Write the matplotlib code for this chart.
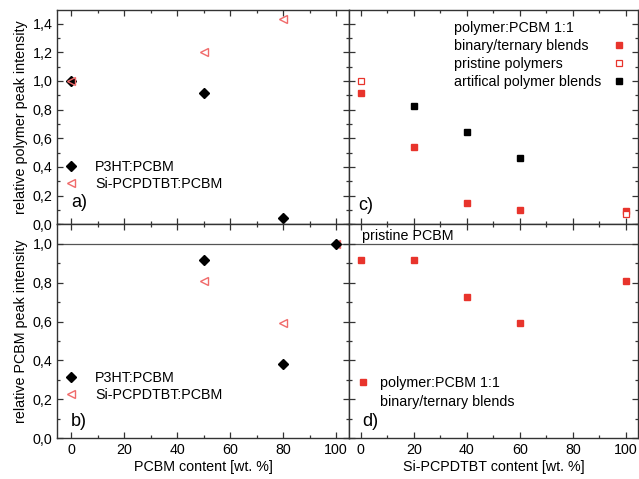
import matplotlib
matplotlib.use("Agg")
import matplotlib.pyplot as plt
from matplotlib.ticker import MultipleLocator, FuncFormatter
from matplotlib.lines import Line2D

plt.rcParams['font.family'] = ['Liberation Sans', 'DejaVu Sans']
plt.rcParams['font.size'] = 10.3

RED = '#e8342c'
PINK = '#f06a6a'
FRAME = '#333333'

# panel a: relative polymer peak intensity vs PCBM content
a_p3ht_x = [0, 50, 80]
a_p3ht_y = [1.0, 0.915, 0.042]
a_si_x = [0, 50, 80]
a_si_y = [1.0, 1.2, 1.435]

# panel b: relative PCBM peak intensity vs PCBM content
b_p3ht_x = [50, 80, 100]
b_p3ht_y = [0.914, 0.383, 1.0]
b_si_x = [50, 80, 100]
b_si_y = [0.806, 0.595, 1.0]

# panel c: relative polymer peak intensity vs Si-PCPDTBT content
c_blend_x = [0, 20, 40, 60, 100]
c_blend_y = [0.914, 0.542, 0.147, 0.102, 0.092]
c_pristine_x = [0, 100]
c_pristine_y = [1.0, 0.074]
c_art_x = [20, 40, 60]
c_art_y = [0.828, 0.644, 0.46]

# panel d: relative PCBM peak intensity vs Si-PCPDTBT content
d_blend_x = [0, 20, 40, 60, 100]
d_blend_y = [0.914, 0.914, 0.724, 0.595, 0.81]

W, H = 639, 479
fig = plt.figure(figsize=(W / 100, H / 100), dpi=100)


def px_axes(x0, y0, x1, y1):
    return fig.add_axes([x0 / W, 1 - y1 / H, (x1 - x0) / W, (y1 - y0) / H])


comma = FuncFormatter(lambda v, p: f'{v:.1f}'.replace('.', ','))


def style(ax, ylim, xlim):
    ax.set_xlim(*xlim)
    ax.set_ylim(*ylim)
    ax.xaxis.set_major_locator(MultipleLocator(20))
    ax.xaxis.set_minor_locator(MultipleLocator(10))
    ax.yaxis.set_major_locator(MultipleLocator(0.2))
    ax.yaxis.set_minor_locator(MultipleLocator(0.1))
    ax.tick_params(which='both', direction='in', top=True, right=True,
                   color=FRAME, width=0.9)
    ax.tick_params(which='major', length=4)
    ax.tick_params(which='minor', length=2.5)
    for s in ax.spines.values():
        s.set_color(FRAME)
        s.set_linewidth(1.0)


xl_left = (-5.2, 105)
xl_right = (-4.3, 104.5)

ax_a = px_axes(57.3, 10, 349.3, 224.3)
ax_b = px_axes(57.3, 224.3, 349.3, 438.3)
ax_c = px_axes(349.3, 10, 637.7, 224.3)
ax_d = px_axes(349.3, 224.3, 637.7, 438.3)

for ax, yl, xl in [(ax_a, (0, 1.495), xl_left), (ax_b, (0, 1.1), xl_left),
                   (ax_c, (0, 1.495), xl_right), (ax_d, (0, 1.1), xl_right)]:
    style(ax, yl, xl)

leg_kw = dict(frameon=False, borderpad=0, borderaxespad=0, handlelength=1.0)

# panel a
ax_a.plot(a_si_x, a_si_y, ls='none', marker='<', ms=6, mfc='none', mec=PINK,
          mew=1.0, label='Si-PCPDTBT:PCBM', zorder=3)
ax_a.plot(a_p3ht_x, a_p3ht_y, ls='none', marker='D', ms=5.2, color='black',
          label='P3HT:PCBM', zorder=2)
h, l = ax_a.get_legend_handles_labels()
ax_a.legend(h[::-1], l[::-1], loc='lower left', bbox_to_anchor=(0.022, 0.157),
            handletextpad=1.18, labelspacing=0.18, **leg_kw)
ax_a.yaxis.set_major_formatter(comma)
ax_a.set_xticklabels([])
ax_a.set_ylabel('relative polymer peak intensity', labelpad=3)
ax_a.text(0.047, 0.06, 'a)', transform=ax_a.transAxes, fontsize=13,
          va='bottom', ha='left')

# panel b
ax_b.axhline(1.0, color='#555555', lw=0.9, zorder=1)
ax_b.plot(b_si_x, b_si_y, ls='none', marker='<', ms=6, mfc='none', mec=PINK,
          mew=1.0, label='Si-PCPDTBT:PCBM', zorder=2)
ax_b.plot(b_p3ht_x, b_p3ht_y, ls='none', marker='D', ms=5.2, color='black',
          label='P3HT:PCBM', zorder=3)
h, l = ax_b.get_legend_handles_labels()
ax_b.legend(h[::-1], l[::-1], loc='lower left', bbox_to_anchor=(0.022, 0.17),
            handletextpad=1.18, labelspacing=0.2, **leg_kw)
ax_b.yaxis.set_major_formatter(comma)
ax_b.set_ylabel('relative PCBM peak intensity', labelpad=3)
ax_b.set_xlabel('PCBM content [wt. %]', labelpad=2)
ax_b.text(0.047, 0.04, 'b)', transform=ax_b.transAxes, fontsize=13,
          va='bottom', ha='left')

# panel c
ax_c.plot(c_blend_x, c_blend_y, ls='none', marker='s', ms=4.8, color=RED,
          label='binary/ternary blends', zorder=2)
ax_c.plot(c_pristine_x, c_pristine_y, ls='none', marker='s', ms=4.8,
          mfc='white', mec=RED, mew=0.9, label='pristine polymers', zorder=3)
ax_c.plot(c_art_x, c_art_y, ls='none', marker='s', ms=4.8, color='black',
          label='artifical polymer blends', zorder=2)
h, l = ax_c.get_legend_handles_labels()
blank = Line2D([], [], ls='none')
# text column (left aligned) and marker column (right) as two legends
leg_txt = ax_c.legend([blank] * 4, ['polymer:PCBM 1:1'] + l, loc='upper left',
                      bbox_to_anchor=(0.363, 0.949), handletextpad=0,
                      labelspacing=0.27, frameon=False, borderpad=0,
                      borderaxespad=0, handlelength=0)
ax_c.add_artist(leg_txt)
ax_c.legend([blank] + h, [''] * 4, loc='upper right',
            bbox_to_anchor=(0.9615, 0.949), handletextpad=0,
            labelspacing=0.27, **leg_kw)
ax_c.set_xticklabels([])
ax_c.set_yticklabels([])
ax_c.text(0.03, 0.05, 'c)', transform=ax_c.transAxes, fontsize=13,
          va='bottom', ha='left')

# panel d
ax_d.axhline(1.0, color='#555555', lw=0.9, zorder=1)
ax_d.plot(d_blend_x, d_blend_y, ls='none', marker='s', ms=4.8, color=RED,
          zorder=2)
ax_d.text(0.5, 1.04, 'pristine PCBM', va='center', ha='left')
dh = Line2D([], [], ls='none', marker='s', ms=4.8, color=RED)
ax_d.legend([dh, blank], ['polymer:PCBM 1:1', 'binary/ternary blends'],
            loc='lower left', bbox_to_anchor=(0.0227, 0.138),
            handletextpad=0.69, labelspacing=0.32, **leg_kw)
ax_d.set_yticklabels([])
ax_d.set_xlabel('Si-PCPDTBT content [wt. %]', labelpad=2)
ax_d.text(0.045, 0.04, 'd)', transform=ax_d.transAxes, fontsize=13,
          va='bottom', ha='left')

fig.savefig('out.png', dpi=100)
